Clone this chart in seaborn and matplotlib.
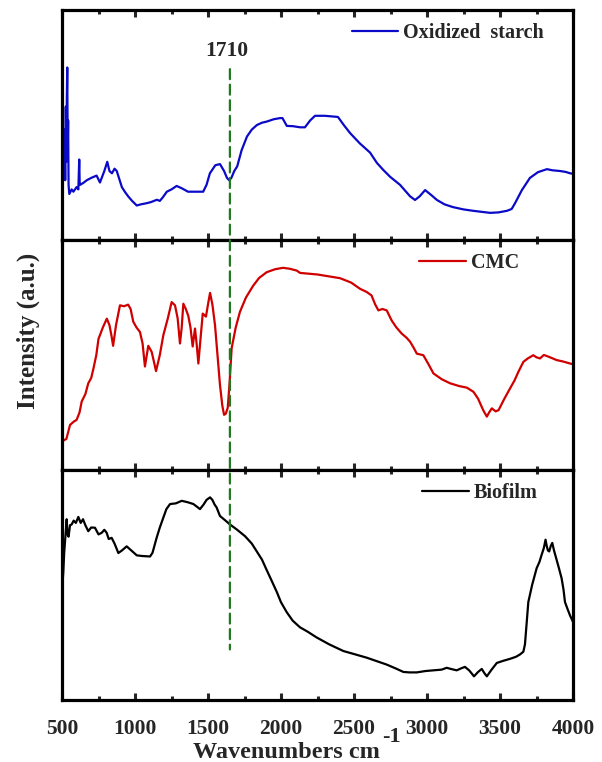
import numpy as np
import pandas as pd
import matplotlib
matplotlib.use("Agg")
import matplotlib.pyplot as plt
from matplotlib.patches import ConnectionPatch
from matplotlib.ticker import MultipleLocator
import seaborn as sns

# ---------------- data ----------------
starch_wn = [505, 512, 518, 522, 526, 530, 533, 536, 539, 542,
             545, 550, 566, 578, 600, 612, 618, 621, 625, 650,
             670, 700, 737, 760, 790, 810, 825, 842, 860, 875,
             890, 910, 930, 953, 980, 1012, 1040, 1080, 1110, 1150,
             1170, 1190, 1218, 1250, 1285, 1320, 1363, 1400, 1440, 1467,
             1490, 1513, 1550, 1582, 1610, 1630, 1645, 1660, 1680, 1700,
             1730, 1767, 1800, 1835, 1870, 1903, 1950, 1993, 2010, 2040,
             2080, 2130, 2164, 2200, 2233, 2300, 2390, 2430, 2473, 2540,
             2610, 2657, 2700, 2747, 2815, 2884, 2918, 2950, 2987, 3030,
             3068, 3120, 3178, 3250, 3315, 3380, 3432, 3490, 3548, 3580,
             3603, 3650, 3705, 3760, 3822, 3860, 3911, 3950, 3980, 4000]
starch_val = [44, 32, 48, 26, 58, 34, 62, 75, 40, 52,
              24, 20, 22, 21, 23, 22, 35, 25, 24, 25,
              26, 27, 28, 25, 30, 34, 30, 29, 31, 30,
              27, 23, 21, 19, 17, 15, 15.5, 16, 16.5, 17.5,
              17, 18.5, 21, 22, 23.5, 22.5, 21, 21, 21, 21,
              24, 29, 32.5, 33, 30, 27, 26, 27, 30, 32,
              39, 45, 48, 50, 51, 51.5, 52.5, 53, 53, 49.6,
              49.5, 49, 49, 52, 54, 54, 53.5, 50, 46.5, 42,
              38, 33.5, 30.5, 27.5, 24, 19, 17.4, 19, 21.7, 19.5,
              17.4, 15.5, 14.3, 13.3, 12.7, 12.2, 11.8, 12, 12.7, 13.5,
              16, 21.7, 27, 29.5, 30.8, 30.3, 30, 29.6, 29, 28.8]

cmc_wn = [505, 515, 530, 555, 580, 600, 620, 635, 660, 680,
          700, 715, 735, 750, 780, 807, 825, 840, 850, 870,
          897, 925, 953, 970, 988, 1010, 1034, 1052, 1068, 1091,
          1114, 1130, 1144, 1170, 1194, 1225, 1251, 1274, 1292, 1308,
          1320, 1331, 1348, 1365, 1380, 1395, 1411, 1422, 1434, 1450,
          1464, 1486, 1500, 1514, 1530, 1548, 1565, 1582, 1598, 1610,
          1622, 1635, 1648, 1662, 1690, 1719, 1760, 1808, 1850, 1902,
          1960, 2014, 2060, 2108, 2130, 2250, 2404, 2480, 2541, 2587,
          2620, 2645, 2667, 2695, 2724, 2758, 2790, 2827, 2860, 2884,
          2910, 2930, 2975, 3010, 3044, 3100, 3158, 3220, 3273, 3318,
          3350, 3385, 3410, 3425, 3444, 3470, 3490, 3530, 3569, 3600,
          3626, 3660, 3690, 3728, 3750, 3774, 3800, 3819, 3850, 3888,
          3930, 3980, 4000]
cmc_val = [12.5, 13, 13.5, 19.6, 21, 21.8, 25, 29.8, 33, 37.7,
           40, 44, 50, 57, 62, 65.8, 63, 58, 54, 63,
           71.6, 71.2, 71.9, 70, 64.5, 62, 60, 55, 45, 54,
           51.4, 47, 43, 50, 58.6, 66, 73, 71.6, 66, 55,
           62, 72.3, 70, 67, 62, 53.7, 61.5, 55, 46.3, 58,
           68, 66.7, 72, 77, 72, 63, 50, 37, 28, 24,
           24.5, 27, 38, 53, 62, 68.8, 75, 80, 83.5, 86,
           87.3, 87.9, 87.5, 86.7, 85.7, 85, 83.4, 81.5, 78.8, 77.4,
           75.9, 72, 69.4, 70, 69.4, 65, 62, 59.3, 57.5, 55.8,
           53, 50.6, 49.9, 46, 42, 39.5, 37.7, 36.5, 35.8, 34,
           31, 26, 23.2, 25, 26.8, 25.5, 26, 31, 35.5, 39,
           42.7, 47, 48.5, 49.9, 49, 48.5, 50, 49.6, 48.8, 47.8,
           47.2, 46.3, 46]

bio_wn = [505, 509, 515, 522, 532, 538, 545, 555, 566, 580,
          595, 612, 628, 644, 660, 680, 700, 726, 750, 772,
          790, 806, 820, 840, 860, 886, 910, 943, 975, 1012,
          1050, 1103, 1120, 1148, 1170, 1194, 1215, 1240, 1280, 1320,
          1360, 1400, 1425, 1445, 1470, 1490, 1514, 1530, 1545, 1559,
          1582, 1620, 1651, 1700, 1754, 1800, 1834, 1870, 1902, 1935,
          1971, 2000, 2039, 2080, 2130, 2180, 2244, 2330, 2427, 2510,
          2587, 2660, 2724, 2790, 2838, 2880, 2930, 2990, 3044, 3100,
          3135, 3170, 3204, 3235, 3260, 3290, 3322, 3350, 3375, 3395,
          3410, 3440, 3478, 3520, 3569, 3610, 3637, 3660, 3671, 3682,
          3694, 3720, 3751, 3770, 3785, 3800, 3812, 3820, 3828, 3837,
          3848, 3858, 3870, 3888, 3905, 3922, 3935, 3945, 3960, 3980,
          4000]
bio_val = [52, 55.8, 64, 70, 78.6, 72, 71, 76, 76.3, 78,
           77, 79.6, 77, 78.6, 76, 73.4, 75, 74.9, 72, 72.7,
           74, 72.7, 70, 70.5, 68, 63.9, 65, 66.8, 65, 62.9,
           62.6, 62.4, 64, 70.5, 75, 79.3, 83, 85.2, 85.5, 86.6,
           86, 85.2, 84, 83, 85, 87, 88.1, 87, 85, 83.7,
           80, 78, 76.3, 74, 71.2, 68, 64.6, 61, 56.5, 52,
           47, 42.5, 38.2, 34.5, 31.6, 29.8, 27.2, 24.2, 21.3, 19.8,
           18.4, 16.8, 15.4, 13.6, 12.2, 12, 12, 12.6, 12.9, 13.2,
           14, 13.4, 12.9, 13.8, 14.4, 12.8, 10.3, 12.2, 13.5, 11.5,
           10.3, 13, 16.1, 17, 17.9, 18.8, 19.8, 21, 24.2, 33,
           42.6, 50, 57.3, 60, 63.1, 66, 69.7, 67, 65, 64.6,
           67, 68.3, 65, 60.9, 57, 52.9, 48, 42.6, 40, 36.7,
           34]

series_labels = ["Oxidized  starch", "CMC", "Biofilm"]
series_colors = ["#0a0ac8", "#d00000", "#000000"]
marker_wn = 1650
marker_label = "1710"
xticks_major = [500, 1000, 1500, 2000, 2500, 3000, 3500, 4000]
xlabel_main = "Wavenumbers cm"
xlabel_sup = "-1"
ylabel = "Intensity (a.u.)"

# ---------------- style ----------------
sns.set_style("ticks")
plt.rcParams["font.family"] = ["Liberation Serif", "DejaVu Serif"]
plt.rcParams["font.weight"] = "bold"

fig = plt.figure(figsize=(6.02, 7.62), dpi=100)
left, right = 62 / 602, 573 / 602
bottom, top = 1 - 700 / 762, 1 - 10 / 762
h = (top - bottom) / 3
axes = [fig.add_axes([left, bottom + (2 - i) * h, right - left, h]) for i in range(3)]

datasets = [(starch_wn, starch_val), (cmc_wn, cmc_val), (bio_wn, bio_val)]
legend_x = [0.567, 0.699, 0.705]

for i, (ax, (wn, val)) in enumerate(zip(axes, datasets)):
    df = pd.DataFrame({"wn": wn, "val": val})
    sns.lineplot(data=df, x="wn", y="val", ax=ax, color=series_colors[i], lw=1.6,
                 estimator=None, sort=True, label=series_labels[i])
    ax.set_xlim(500, 4000)
    ax.set_ylim(0, 100)
    ax.set_xlabel("")
    ax.set_ylabel("")
    ax.set_yticks([])
    ax.set_xticks(xticks_major)
    ax.xaxis.set_minor_locator(MultipleLocator(250))
    ax.tick_params(axis="x", which="major", direction="in", top=True, bottom=True,
                   length=5, width=2.2, labelsize=15.5, pad=14)
    ax.tick_params(axis="x", which="minor", direction="in", top=True, bottom=True,
                   length=3, width=2.2)
    if i < 2:
        ax.tick_params(axis="x", which="both", labelbottom=False)
    for sp in ax.spines.values():
        sp.set_linewidth(2.3)
        sp.set_color("black")
    ax.legend(loc="center left", bbox_to_anchor=(legend_x[i], 0.9), frameon=False,
              borderpad=0, borderaxespad=0, handlelength=2.3, handletextpad=0.25,
              prop={"family": "Liberation Serif", "weight": "bold", "size": 14.5})
    ax.set_facecolor("white")

for lbl in axes[2].get_xticklabels():
    lbl.set_fontweight("bold")

# x-axis title (large superscript as in the reference)
fig.text(193 / 602, 1 - 758 / 762, xlabel_main, ha="left", va="baseline",
         fontsize=17.5, fontweight="bold")
fig.text(382 / 602, 1 - 742 / 762, xlabel_sup, ha="left", va="baseline",
         fontsize=16, fontweight="bold")

fig.text(28 / 602, 1 - 331 / 762, ylabel, rotation=90, ha="center", va="center",
         fontsize=18, fontweight="bold")

# vertical dashed marker spanning panels
con = ConnectionPatch(xyA=(marker_wn, 74.3), coordsA=axes[0].transData,
                      xyB=(marker_wn, 22), coordsB=axes[2].transData,
                      color="#1f7a1f", lw=1.6, linestyle=(0, (4.5, 2.5)))
fig.add_artist(con)
axes[0].text(marker_wn - 20, 82, marker_label, ha="center", va="center", fontsize=15.5,
             fontweight="bold")

fig.savefig("out.png", dpi=100, facecolor="white")
